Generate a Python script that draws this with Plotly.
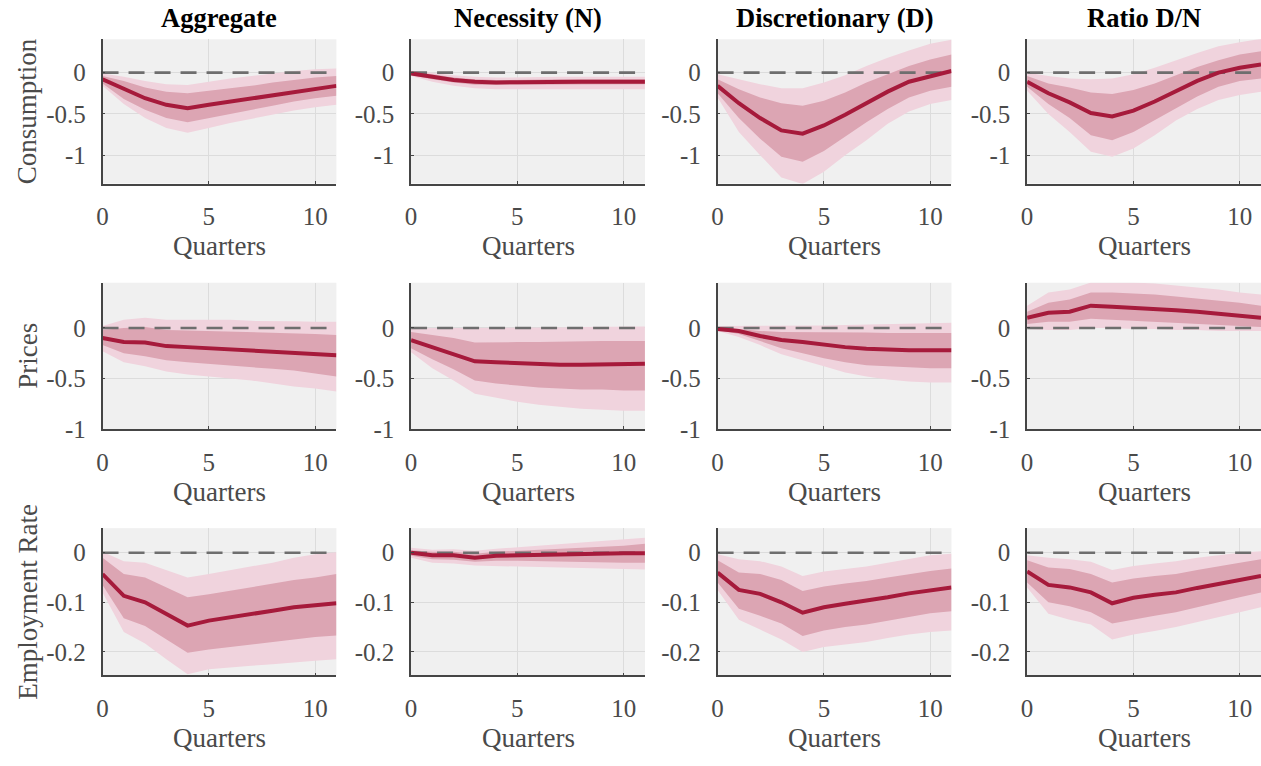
import plotly.graph_objects as go

# ---------------- data ----------------
quarters = list(range(12))
col_titles = ["Aggregate", "Necessity (N)", "Discretionary (D)", "Ratio D/N"]
row_titles = ["Consumption", "Prices", "Employment Rate"]
x_label = "Quarters"
x_tickvals = [0, 5, 10]
x_ticktext = ["0", "5", "10"]
row_tickvals = [[0, -0.5, -1], [0, -0.5, -1], [0, -0.1, -0.2]]
row_ticktext = [["0", "-0.5", "-1"], ["0", "-0.5", "-1"], ["0", "-0.1", "-0.2"]]
row_yranges = [[-1.345, 0.405], [-1.0, 0.447], [-0.2475, 0.0495]]

# Consumption
cons_agg_med = [-0.08, -0.20, -0.31, -0.39, -0.43, -0.39, -0.35, -0.31, -0.27, -0.23, -0.19, -0.16]
cons_agg_lo68 = [-0.13, -0.32, -0.45, -0.55, -0.60, -0.55, -0.50, -0.45, -0.40, -0.35, -0.31, -0.28]
cons_agg_hi68 = [-0.04, -0.10, -0.18, -0.23, -0.25, -0.22, -0.19, -0.16, -0.12, -0.09, -0.06, -0.04]
cons_agg_lo90 = [-0.16, -0.38, -0.55, -0.67, -0.73, -0.67, -0.61, -0.56, -0.51, -0.46, -0.42, -0.39]
cons_agg_hi90 = [-0.01, -0.05, -0.10, -0.14, -0.15, -0.11, -0.07, -0.04, -0.01, 0.02, 0.04, 0.05]

cons_nec_med = [-0.01, -0.05, -0.09, -0.11, -0.12, -0.115, -0.11, -0.11, -0.11, -0.11, -0.11, -0.11]
cons_nec_lo68 = [-0.03, -0.08, -0.12, -0.145, -0.15, -0.145, -0.14, -0.14, -0.14, -0.14, -0.14, -0.14]
cons_nec_hi68 = [0.01, -0.02, -0.06, -0.08, -0.09, -0.085, -0.08, -0.08, -0.08, -0.08, -0.08, -0.08]
cons_nec_lo90 = [-0.04, -0.11, -0.16, -0.19, -0.20, -0.20, -0.20, -0.20, -0.20, -0.20, -0.20, -0.20]
cons_nec_hi90 = [0.02, 0.0, -0.03, -0.05, -0.06, -0.055, -0.05, -0.05, -0.05, -0.05, -0.05, -0.05]

cons_dis_med = [-0.16, -0.37, -0.55, -0.70, -0.74, -0.64, -0.51, -0.37, -0.23, -0.11, -0.04, 0.02]
cons_dis_lo68 = [-0.25, -0.55, -0.80, -1.02, -1.08, -0.95, -0.78, -0.60, -0.44, -0.30, -0.22, -0.17]
cons_dis_hi68 = [-0.08, -0.20, -0.30, -0.37, -0.40, -0.34, -0.24, -0.12, -0.02, 0.08, 0.16, 0.22]
cons_dis_lo90 = [-0.30, -0.72, -1.00, -1.27, -1.35, -1.20, -1.00, -0.82, -0.62, -0.47, -0.38, -0.33]
cons_dis_hi90 = [-0.02, -0.08, -0.14, -0.19, -0.19, -0.12, -0.03, 0.08, 0.18, 0.27, 0.35, 0.40]

cons_rat_med = [-0.11, -0.25, -0.36, -0.49, -0.53, -0.46, -0.35, -0.22, -0.10, 0.0, 0.06, 0.10]
cons_rat_lo68 = [-0.17, -0.38, -0.55, -0.76, -0.82, -0.72, -0.58, -0.43, -0.29, -0.17, -0.10, -0.07]
cons_rat_hi68 = [-0.04, -0.13, -0.18, -0.24, -0.26, -0.21, -0.13, -0.03, 0.07, 0.15, 0.22, 0.26]
cons_rat_lo90 = [-0.22, -0.50, -0.72, -0.96, -1.02, -0.92, -0.76, -0.58, -0.44, -0.33, -0.27, -0.23]
cons_rat_hi90 = [0.0, -0.04, -0.07, -0.08, -0.07, -0.02, 0.06, 0.15, 0.24, 0.32, 0.37, 0.41]

# Prices
pric_agg_med = [-0.10, -0.14, -0.145, -0.18, -0.19, -0.20, -0.21, -0.22, -0.235, -0.245, -0.255, -0.27]
pric_agg_lo68 = [-0.17, -0.25, -0.28, -0.32, -0.34, -0.36, -0.375, -0.39, -0.405, -0.42, -0.45, -0.48]
pric_agg_hi68 = [-0.02, 0.0, 0.01, -0.02, -0.025, -0.03, -0.035, -0.04, -0.05, -0.055, -0.06, -0.07]
pric_agg_lo90 = [-0.23, -0.34, -0.38, -0.43, -0.46, -0.48, -0.50, -0.52, -0.55, -0.58, -0.60, -0.63]
pric_agg_hi90 = [0.02, 0.08, 0.10, 0.08, 0.08, 0.08, 0.08, 0.07, 0.07, 0.065, 0.06, 0.06]

pric_nec_med = [-0.12, -0.19, -0.25, -0.33, -0.34, -0.35, -0.36, -0.365, -0.365, -0.36, -0.36, -0.355]
pric_nec_lo68 = [-0.20, -0.31, -0.41, -0.52, -0.55, -0.57, -0.59, -0.60, -0.61, -0.61, -0.62, -0.62]
pric_nec_hi68 = [-0.04, -0.07, -0.10, -0.145, -0.14, -0.14, -0.14, -0.135, -0.135, -0.13, -0.13, -0.13]
pric_nec_lo90 = [-0.24, -0.40, -0.52, -0.65, -0.69, -0.73, -0.76, -0.78, -0.80, -0.81, -0.82, -0.82]
pric_nec_hi90 = [-0.01, 0.0, 0.0, 0.0, 0.0, 0.0, 0.005, 0.005, 0.01, 0.01, 0.015, 0.015]

pric_dis_med = [-0.01, -0.03, -0.08, -0.12, -0.14, -0.17, -0.19, -0.205, -0.215, -0.22, -0.22, -0.22]
pric_dis_lo68 = [-0.02, -0.06, -0.13, -0.20, -0.25, -0.30, -0.34, -0.37, -0.38, -0.39, -0.40, -0.40]
pric_dis_hi68 = [0.01, -0.01, -0.03, -0.04, -0.04, -0.04, -0.045, -0.045, -0.05, -0.05, -0.05, -0.05]
pric_dis_lo90 = [-0.03, -0.09, -0.17, -0.26, -0.32, -0.38, -0.44, -0.48, -0.51, -0.53, -0.54, -0.54]
pric_dis_hi90 = [0.02, 0.02, 0.02, 0.02, 0.02, 0.025, 0.03, 0.035, 0.04, 0.045, 0.05, 0.05]

pric_rat_med = [0.10, 0.15, 0.16, 0.22, 0.21, 0.20, 0.19, 0.175, 0.16, 0.14, 0.12, 0.10]
pric_rat_lo68 = [0.04, 0.06, 0.06, 0.09, 0.08, 0.07, 0.06, 0.05, 0.04, 0.03, 0.02, 0.01]
pric_rat_hi68 = [0.16, 0.25, 0.28, 0.35, 0.35, 0.34, 0.33, 0.31, 0.29, 0.27, 0.25, 0.22]
pric_rat_lo90 = [-0.01, -0.02, -0.02, 0.0, 0.0, -0.01, -0.01, -0.02, -0.02, -0.03, -0.03, -0.03]
pric_rat_hi90 = [0.22, 0.35, 0.38, 0.45, 0.45, 0.45, 0.44, 0.42, 0.40, 0.38, 0.35, 0.33]

# Employment rate
empl_agg_med = [-0.043, -0.087, -0.100, -0.123, -0.147, -0.137, -0.131, -0.124, -0.117, -0.110, -0.105, -0.102]
empl_agg_lo68 = [-0.065, -0.132, -0.148, -0.175, -0.202, -0.195, -0.190, -0.186, -0.180, -0.175, -0.170, -0.167]
empl_agg_hi68 = [-0.010, -0.043, -0.050, -0.070, -0.090, -0.084, -0.077, -0.070, -0.062, -0.055, -0.050, -0.043]
empl_agg_lo90 = [-0.080, -0.160, -0.183, -0.215, -0.245, -0.235, -0.232, -0.228, -0.225, -0.222, -0.218, -0.215]
empl_agg_hi90 = [0.002, -0.017, -0.020, -0.035, -0.050, -0.043, -0.035, -0.027, -0.020, -0.010, -0.003, 0.001]

empl_nec_med = [0.0, -0.005, -0.005, -0.010, -0.006, -0.005, -0.004, -0.003, -0.002, -0.001, -0.001, -0.001]
empl_nec_lo68 = [-0.006, -0.013, -0.014, -0.018, -0.016, -0.016, -0.017, -0.017, -0.018, -0.019, -0.020, -0.020]
empl_nec_hi68 = [0.005, 0.002, 0.002, -0.002, 0.002, 0.004, 0.006, 0.008, 0.010, 0.012, 0.014, 0.018]
empl_nec_lo90 = [-0.010, -0.020, -0.022, -0.026, -0.026, -0.027, -0.028, -0.029, -0.030, -0.031, -0.033, -0.034]
empl_nec_hi90 = [0.010, 0.006, 0.007, 0.004, 0.008, 0.011, 0.014, 0.017, 0.020, 0.023, 0.026, 0.030]

empl_dis_med = [-0.040, -0.075, -0.083, -0.100, -0.121, -0.110, -0.103, -0.097, -0.090, -0.082, -0.076, -0.070]
empl_dis_lo68 = [-0.060, -0.113, -0.127, -0.143, -0.168, -0.157, -0.150, -0.145, -0.137, -0.129, -0.122, -0.118]
empl_dis_hi68 = [-0.015, -0.040, -0.043, -0.055, -0.077, -0.068, -0.062, -0.057, -0.050, -0.043, -0.037, -0.032]
empl_dis_lo90 = [-0.075, -0.135, -0.155, -0.175, -0.200, -0.190, -0.185, -0.180, -0.172, -0.165, -0.160, -0.157]
empl_dis_hi90 = [-0.003, -0.013, -0.017, -0.028, -0.047, -0.038, -0.033, -0.028, -0.020, -0.012, -0.005, -0.002]

empl_rat_med = [-0.038, -0.065, -0.070, -0.080, -0.102, -0.091, -0.085, -0.080, -0.071, -0.063, -0.055, -0.047]
empl_rat_lo68 = [-0.060, -0.100, -0.108, -0.120, -0.143, -0.135, -0.127, -0.120, -0.110, -0.100, -0.090, -0.080]
empl_rat_hi68 = [-0.015, -0.030, -0.033, -0.043, -0.060, -0.052, -0.047, -0.043, -0.035, -0.027, -0.020, -0.013]
empl_rat_lo90 = [-0.070, -0.123, -0.135, -0.145, -0.175, -0.165, -0.158, -0.150, -0.140, -0.130, -0.120, -0.110]
empl_rat_hi90 = [-0.005, -0.010, -0.013, -0.018, -0.035, -0.027, -0.022, -0.017, -0.010, -0.005, 0.0, 0.003]

panels = [
    [(cons_agg_med, cons_agg_lo68, cons_agg_hi68, cons_agg_lo90, cons_agg_hi90),
     (cons_nec_med, cons_nec_lo68, cons_nec_hi68, cons_nec_lo90, cons_nec_hi90),
     (cons_dis_med, cons_dis_lo68, cons_dis_hi68, cons_dis_lo90, cons_dis_hi90),
     (cons_rat_med, cons_rat_lo68, cons_rat_hi68, cons_rat_lo90, cons_rat_hi90)],
    [(pric_agg_med, pric_agg_lo68, pric_agg_hi68, pric_agg_lo90, pric_agg_hi90),
     (pric_nec_med, pric_nec_lo68, pric_nec_hi68, pric_nec_lo90, pric_nec_hi90),
     (pric_dis_med, pric_dis_lo68, pric_dis_hi68, pric_dis_lo90, pric_dis_hi90),
     (pric_rat_med, pric_rat_lo68, pric_rat_hi68, pric_rat_lo90, pric_rat_hi90)],
    [(empl_agg_med, empl_agg_lo68, empl_agg_hi68, empl_agg_lo90, empl_agg_hi90),
     (empl_nec_med, empl_nec_lo68, empl_nec_hi68, empl_nec_lo90, empl_nec_hi90),
     (empl_dis_med, empl_dis_lo68, empl_dis_hi68, empl_dis_lo90, empl_dis_hi90),
     (empl_rat_med, empl_rat_lo68, empl_rat_hi68, empl_rat_lo90, empl_rat_hi90)],
]

# ---------------- style / layout ----------------
W, H = 1261, 766
FONT = "Liberation Serif, Times New Roman, serif"
C_OUTER = "#f0d3dd"
C_INNER = "#dca5b3"
C_LINE = "#a61a3b"
C_BG = "#f0f0f0"
C_GRID = "#dcdcdc"
C_ZERO = "#6e6e6e"
C_AXIS = "#454545"
C_TICK = "#4a4a4a"

col_left_px = [97, 407, 715, 1026]
col_width_px = 235
row_top_px = [40, 288, 538]
row_height_px = [147, 149, 150]

fig = go.Figure()
layout = dict(
    width=W, height=H,
    margin=dict(l=0, r=0, t=0, b=0),
    paper_bgcolor="white",
    plot_bgcolor=C_BG,
    showlegend=False,
    font=dict(family=FONT, color=C_TICK),
)
annotations = []

for r in range(3):
    for c in range(4):
        idx = r * 4 + c + 1
        xa = "x" if idx == 1 else f"x{idx}"
        ya = "y" if idx == 1 else f"y{idx}"
        med, lo68, hi68, lo90, hi90 = panels[r][c]
        xs = quarters + quarters[::-1]
        fig.add_trace(go.Scatter(x=xs, y=hi90 + lo90[::-1], fill="toself",
                                 fillcolor=C_OUTER, line=dict(width=0),
                                 mode="lines", hoverinfo="skip", xaxis=xa, yaxis=ya))
        fig.add_trace(go.Scatter(x=xs, y=hi68 + lo68[::-1], fill="toself",
                                 fillcolor=C_INNER, line=dict(width=0),
                                 mode="lines", hoverinfo="skip", xaxis=xa, yaxis=ya))
        fig.add_trace(go.Scatter(x=[quarters[0], quarters[-1]], y=[0, 0], mode="lines",
                                 line=dict(color=C_ZERO, width=2.6, dash="16px,10px"),
                                 hoverinfo="skip", xaxis=xa, yaxis=ya))
        fig.add_trace(go.Scatter(x=quarters, y=med, mode="lines",
                                 line=dict(color=C_LINE, width=4),
                                 xaxis=xa, yaxis=ya))

        x0 = col_left_px[c] / W
        x1 = min(1.0, (col_left_px[c] + col_width_px) / W)
        ytop = 1 - row_top_px[r] / H
        ybot = 1 - (row_top_px[r] + row_height_px[r]) / H
        xkey = "xaxis" if idx == 1 else f"xaxis{idx}"
        ykey = "yaxis" if idx == 1 else f"yaxis{idx}"
        layout[xkey] = dict(
            domain=[x0, x1], anchor=ya, range=[0, 11],
            tickvals=x_tickvals, ticktext=x_ticktext,
            showgrid=True, gridcolor=C_GRID, gridwidth=1,
            zeroline=False, showline=True, linecolor=C_AXIS, linewidth=1.5,
            ticks="inside", ticklen=3, tickcolor=C_AXIS,
            ticklabelstandoff=10,
            tickfont=dict(family=FONT, size=25, color=C_TICK),
        )
        layout[ykey] = dict(
            domain=[ybot, ytop], anchor=xa, range=row_yranges[r],
            tickvals=row_tickvals[r], ticktext=row_ticktext[r],
            showgrid=True, gridcolor=C_GRID, gridwidth=1,
            zeroline=False, showline=True, linecolor=C_AXIS, linewidth=1.5,
            ticks="inside", ticklen=3, tickcolor=C_AXIS,
            ticklabelstandoff=10,
            tickfont=dict(family=FONT, size=25, color=C_TICK),
        )
        # x-axis label
        annotations.append(dict(
            text=x_label, xref="paper", yref="paper",
            x=(col_left_px[c] + col_width_px / 2) / W,
            y=1 - (row_top_px[r] + row_height_px[r] + 64) / H,
            xanchor="center", yanchor="middle", showarrow=False,
            font=dict(family=FONT, size=27, color=C_TICK)))

# column titles
for c in range(4):
    annotations.append(dict(
        text=f"<b>{col_titles[c]}</b>", xref="paper", yref="paper",
        x=(col_left_px[c] + col_width_px / 2) / W, y=1 - 18 / H,
        xanchor="center", yanchor="middle", showarrow=False,
        font=dict(family=FONT, size=26.5, color="black")))
# row titles
for r in range(3):
    annotations.append(dict(
        text=row_titles[r], xref="paper", yref="paper", textangle=-90,
        x=22 / W, y=1 - (row_top_px[r] + row_height_px[r] / 2) / H,
        xanchor="center", yanchor="middle", showarrow=False,
        font=dict(family=FONT, size=27, color=C_TICK)))

layout["annotations"] = annotations
fig.update_layout(**layout)
fig.write_html("out.html")
